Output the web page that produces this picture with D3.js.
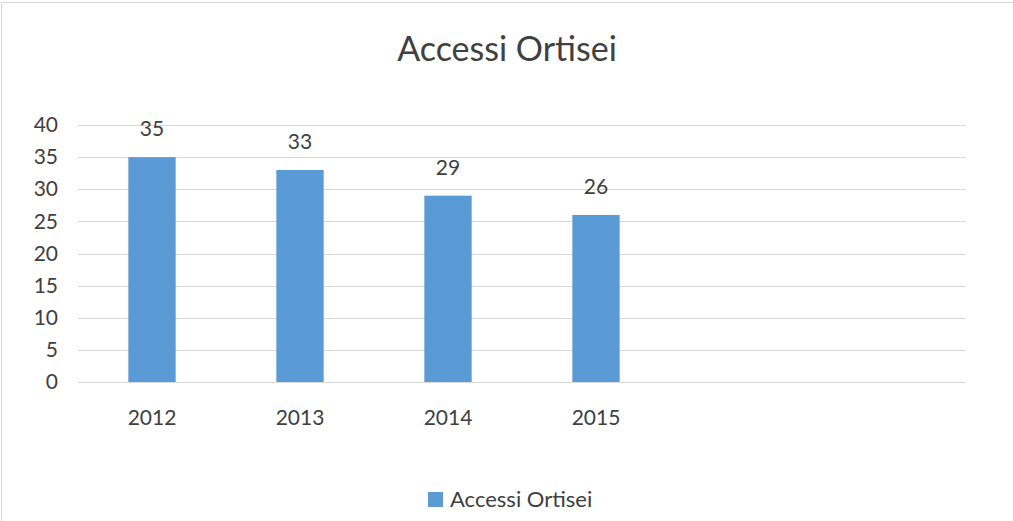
<!DOCTYPE html>
<html>
<head>
<meta charset="utf-8">
<script src="https://cdn.jsdelivr.net/npm/d3@7"></script>
<style>
  html, body { margin: 0; padding: 0; background: #fff; }
  svg { display: block; }
  text { font-family: Lato, "Open Sans", sans-serif; }
</style>
</head>
<body>
<svg id="chart" width="1013" height="521"></svg>
<script>
// Chart data
const categories = ["2012", "2013", "2014", "2015", "", " "];
const values = [35, 33, 29, 26, null, null];
const yTicks = [0, 5, 10, 15, 20, 25, 30, 35, 40];
const title = "Accessi Ortisei";
const seriesName = "Accessi Ortisei";

const W = 1013, H = 521;
const margin = { left: 78, right: 47, top: 125, bottom: 139 };
const svg = d3.select("#chart");

// outer chart border
svg.append("rect")
  .attr("x", 1.5).attr("y", 2.5)
  .attr("width", W + 10).attr("height", H + 10)
  .attr("fill", "none").attr("stroke", "#d9d9d9");

const x = d3.scaleBand()
  .domain(categories)
  .range([margin.left, W - margin.right])
  .paddingInner(0.68).paddingOuter(0.34);

const y = d3.scaleLinear()
  .domain([0, 40])
  .range([H - margin.bottom, margin.top]);

// gridlines
svg.append("g")
  .selectAll("line")
  .data(yTicks)
  .join("line")
  .attr("x1", margin.left).attr("x2", W - margin.right)
  .attr("y1", d => Math.round(y(d)) + 0.5).attr("y2", d => Math.round(y(d)) + 0.5)
  .attr("stroke", "#d9d9d9").attr("stroke-width", 1);

// y axis labels
const yAxis = d3.axisLeft(y).tickValues(yTicks).tickSize(0).tickPadding(20);
const gy = svg.append("g")
  .attr("transform", `translate(${margin.left},0)`)
  .call(yAxis);
gy.select(".domain").remove();
gy.selectAll("text")
  .attr("font-size", 21).attr("fill", "#404040")
  .style("font-family", "Lato, 'Open Sans', sans-serif");

// x axis labels
const xAxis = d3.axisBottom(x).tickSize(0).tickPadding(28);
const gx = svg.append("g")
  .attr("transform", `translate(0,${H - margin.bottom})`)
  .call(xAxis);
gx.select(".domain").remove();
gx.selectAll("text")
  .attr("font-size", 21).attr("fill", "#404040")
  .style("font-family", "Lato, 'Open Sans', sans-serif");

const data = categories.map((c, i) => ({ c, v: values[i] })).filter(d => d.v != null);

// bars
svg.append("g")
  .selectAll("rect")
  .data(data)
  .join("rect")
  .attr("x", d => x(d.c))
  .attr("width", x.bandwidth())
  .attr("y", d => y(d.v))
  .attr("height", d => y(0) - y(d.v))
  .attr("fill", "#5b9bd5");

// value labels
svg.append("g")
  .selectAll("text")
  .data(data)
  .join("text")
  .attr("x", d => x(d.c) + x.bandwidth() / 2)
  .attr("y", d => y(d.v) - 21)
  .attr("text-anchor", "middle")
  .attr("font-size", 21).attr("fill", "#404040")
  .text(d => d.v);

// title
svg.append("text")
  .attr("x", 507).attr("y", 61)
  .attr("text-anchor", "middle")
  .attr("font-size", 34).attr("fill", "#404040")
  .text(title);

// legend
const lg = svg.append("g");
lg.append("rect")
  .attr("x", 428).attr("y", 492).attr("width", 15).attr("height", 15)
  .attr("fill", "#5b9bd5");
lg.append("text")
  .attr("x", 450).attr("y", 507)
  .attr("font-size", 22).attr("fill", "#404040")
  .text(seriesName);
</script>
</body>
</html>
